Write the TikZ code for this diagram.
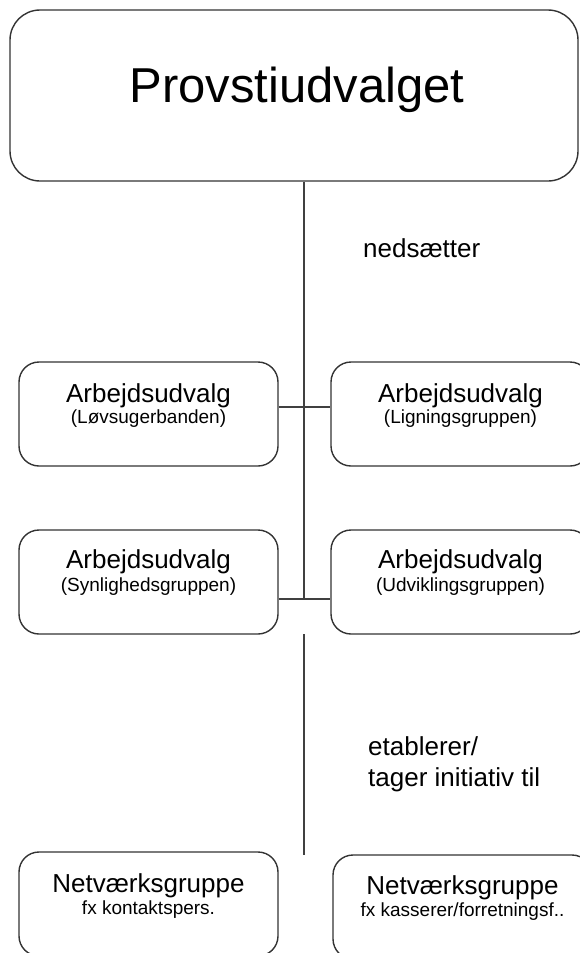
\documentclass[tikz,border=0pt]{standalone}
\usepackage{fontspec}
\setmainfont{Liberation Sans}
\begin{document}
\begin{tikzpicture}[x=1pt,y=-1pt,
  box/.style={draw=black!80, line width=1.4pt, rounded corners=20pt, minimum width=259pt, minimum height=104pt, inner sep=0pt},
  bigbox/.style={draw=black!80, line width=1.4pt, rounded corners=30pt, minimum width=568pt, minimum height=171pt, inner sep=0pt},
  conn/.style={draw=black!75, line width=1.6pt},
  maintxt/.style={anchor=base, inner sep=0pt, font=\fontsize{26}{31}\selectfont},
  subtxt/.style={anchor=base, inner sep=0pt, font=\fontsize{19}{23}\selectfont},
  lbl/.style={anchor=base west, inner sep=0pt, font=\fontsize{26}{31}\selectfont, align=left}
]
\clip (0,0) rectangle (580,953);
% boxes
\node[bigbox] (top) at (294,95.5) {};
\node[box] (a1) at (148.5,414) {};
\node[box] (b1) at (460.5,414) {};
\node[box] (a2) at (148.5,582) {};
\node[box] (b2) at (460.5,582) {};
\node[box] (c1) at (148.5,904) {};
\node[box] (c2) at (462.5,907) {};
% texts
\node[anchor=base, inner sep=0pt, font=\fontsize{49}{58}\selectfont] (ttop) at (297,102) {Provstiudvalget};
\node[maintxt] (ta1) at (148.5,402) {Arbejdsudvalg};
\node[subtxt] (sa1) at (148.5,423) {(Løvsugerbanden)};
\node[maintxt] (tb1) at (460.5,402) {Arbejdsudvalg};
\node[subtxt] (sb1) at (460.5,423) {(Ligningsgruppen)};
\node[maintxt] (ta2) at (148.5,568) {Arbejdsudvalg};
\node[subtxt] (sa2) at (148.5,591) {(Synlighedsgruppen)};
\node[maintxt] (tb2) at (460.5,568) {Arbejdsudvalg};
\node[subtxt] (sb2) at (460.5,591) {(Udviklingsgruppen)};
\node[maintxt] (tc1) at (148.5,892) {Netværksgruppe};
\node[subtxt] (sc1) at (148.5,914) {fx kontaktspers.};
\node[maintxt] (tc2) at (462.5,894) {Netværksgruppe};
\node[subtxt] (sc2) at (462.5,916) {fx kasserer/forretningsf..};
\node[lbl] (l1) at (363,257) {nedsætter};
\node[lbl] (l2) at (368,786) {etablerer/\\tager initiativ til};
% connectors
\coordinate (j1) at (304,407);
\coordinate (j2) at (304,599);
\coordinate (s2) at (304,634);
\coordinate (e2) at (304,855);
\draw[conn] (top.south -| j1) -- (j2);
\draw[conn] (a1.east |- j1) -- (b1.west |- j1);
\draw[conn] (a2.east |- j2) -- (b2.west |- j2);
\draw[conn] (s2) -- (e2);
\end{tikzpicture}
\end{document}
